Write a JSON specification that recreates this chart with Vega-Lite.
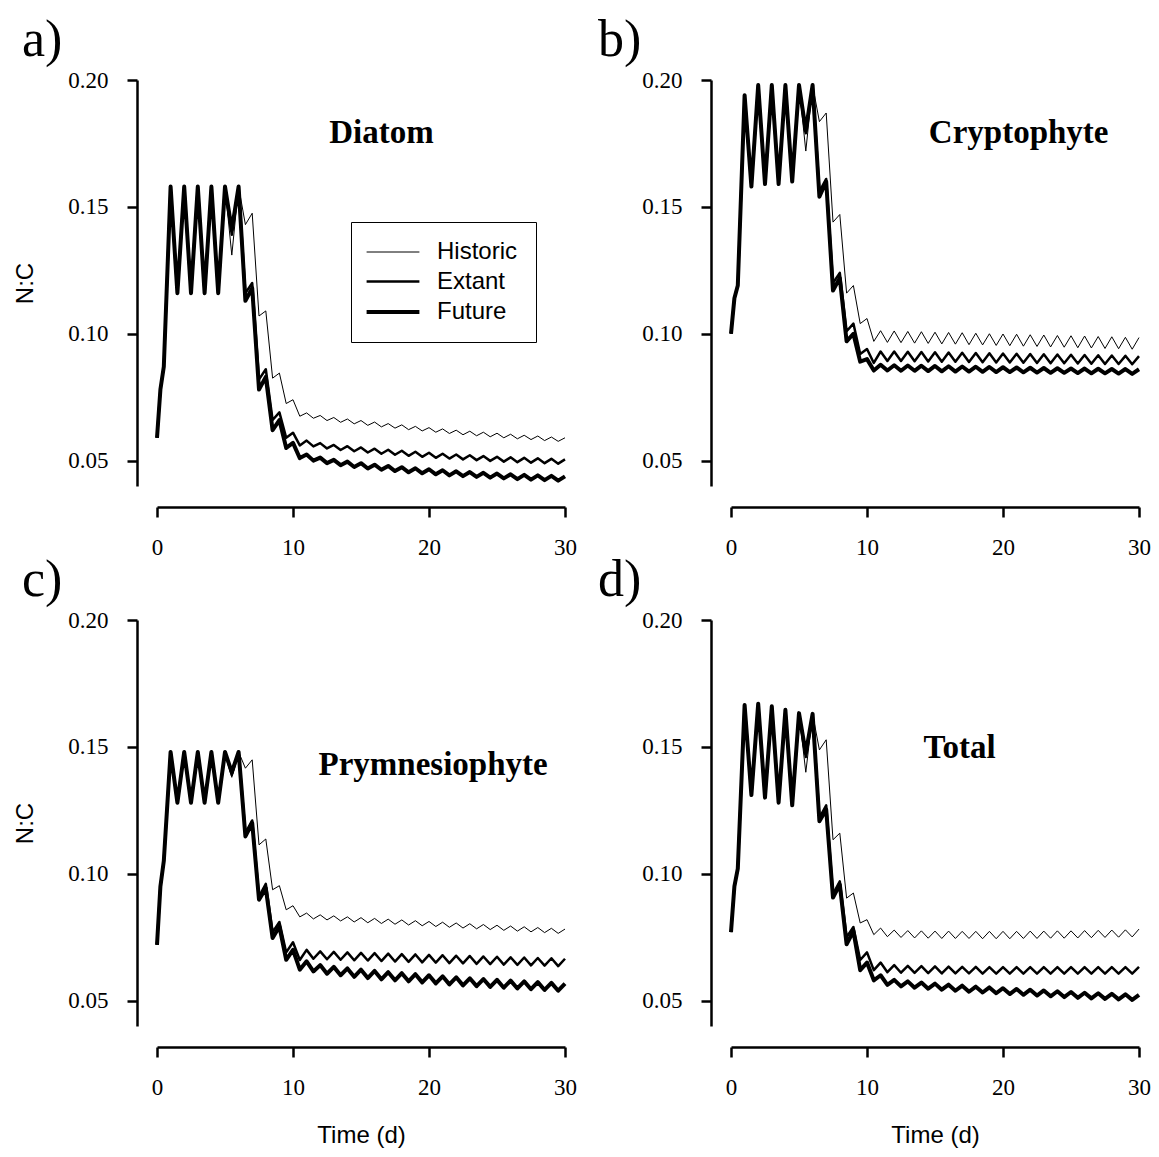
{
"$schema": "https://vega.github.io/schema/vega-lite/v6.json",
"background": "white",
"padding": {"left": 13, "top": 14, "right": 5, "bottom": 5},
"config": {
  "view": {"stroke": null},
  "axis": {"domainColor": "black", "tickColor": "black", "domainWidth": 2.5, "tickWidth": 2.5, "tickSize": 10, "labelFont": "Liberation Serif", "labelFontSize": 23, "labelColor": "black", "titleFont": "Liberation Sans", "titleFontSize": 24, "titleFontWeight": "normal", "titleColor": "black", "grid": false, "labelFlush": false, "labelOverlap": false},
  "title": {"font": "Liberation Serif", "fontSize": 52, "fontWeight": "normal", "color": "black", "anchor": "start", "frame": "group", "baseline": "bottom", "offset": 2}
},
"datasets": {
"a": [
{"t":0,"Historic":0.059,"Extant":0.059,"Future":0.059},
{"t":0.25,"Historic":0.078,"Extant":0.078,"Future":0.078},
{"t":0.5,"Historic":0.087,"Extant":0.087,"Future":0.087},
{"t":1,"Historic":0.158,"Extant":0.158,"Future":0.158},
{"t":1.5,"Historic":0.116,"Extant":0.116,"Future":0.116},
{"t":2,"Historic":0.158,"Extant":0.158,"Future":0.158},
{"t":2.5,"Historic":0.116,"Extant":0.116,"Future":0.116},
{"t":3,"Historic":0.158,"Extant":0.158,"Future":0.158},
{"t":3.5,"Historic":0.116,"Extant":0.116,"Future":0.116},
{"t":4,"Historic":0.158,"Extant":0.158,"Future":0.158},
{"t":4.5,"Historic":0.116,"Extant":0.116,"Future":0.116},
{"t":5,"Historic":0.158,"Extant":0.158,"Future":0.158},
{"t":5.5,"Historic":0.131,"Extant":0.139,"Future":0.141},
{"t":6,"Historic":0.158,"Extant":0.158,"Future":0.158},
{"t":6.5,"Historic":0.143,"Extant":0.116,"Future":0.113},
{"t":7,"Historic":0.1475,"Extant":0.120,"Future":0.118},
{"t":7.5,"Historic":0.107,"Extant":0.082,"Future":0.078},
{"t":8,"Historic":0.109,"Extant":0.086,"Future":0.083},
{"t":8.5,"Historic":0.0825,"Extant":0.066,"Future":0.062},
{"t":9,"Historic":0.0845,"Extant":0.069,"Future":0.066},
{"t":9.5,"Historic":0.0725,"Extant":0.059,"Future":0.055},
{"t":10,"Historic":0.074,"Extant":0.061,"Future":0.057},
{"t":10.5,"Historic":0.0675,"Extant":0.056,"Future":0.051},
{"t":11,"Historic":0.0688,"Extant":0.0579,"Future":0.0524},
{"t":11.5,"Historic":0.0667,"Extant":0.0556,"Future":0.0500},
{"t":12,"Historic":0.0678,"Extant":0.0569,"Future":0.0512},
{"t":12.5,"Historic":0.0658,"Extant":0.0548,"Future":0.0490},
{"t":13,"Historic":0.0670,"Extant":0.0562,"Future":0.0503},
{"t":13.5,"Historic":0.0651,"Extant":0.0542,"Future":0.0482},
{"t":14,"Historic":0.0664,"Extant":0.0557,"Future":0.0496},
{"t":14.5,"Historic":0.0645,"Extant":0.0537,"Future":0.0475},
{"t":15,"Historic":0.0658,"Extant":0.0552,"Future":0.0490},
{"t":15.5,"Historic":0.0639,"Extant":0.0532,"Future":0.0469},
{"t":16,"Historic":0.0652,"Extant":0.0547,"Future":0.0484},
{"t":16.5,"Historic":0.0633,"Extant":0.0527,"Future":0.0464},
{"t":17,"Historic":0.0646,"Extant":0.0543,"Future":0.0479},
{"t":17.5,"Historic":0.0628,"Extant":0.0523,"Future":0.0459},
{"t":18,"Historic":0.0641,"Extant":0.0539,"Future":0.0474},
{"t":18.5,"Historic":0.0622,"Extant":0.0519,"Future":0.0454},
{"t":19,"Historic":0.0635,"Extant":0.0535,"Future":0.0470},
{"t":19.5,"Historic":0.0617,"Extant":0.0515,"Future":0.0450},
{"t":20,"Historic":0.0630,"Extant":0.0531,"Future":0.0466},
{"t":20.5,"Historic":0.0612,"Extant":0.0511,"Future":0.0446},
{"t":21,"Historic":0.0625,"Extant":0.0527,"Future":0.0462},
{"t":21.5,"Historic":0.0607,"Extant":0.0508,"Future":0.0442},
{"t":22,"Historic":0.0620,"Extant":0.0524,"Future":0.0458},
{"t":22.5,"Historic":0.0602,"Extant":0.0505,"Future":0.0439},
{"t":23,"Historic":0.0616,"Extant":0.0521,"Future":0.0455},
{"t":23.5,"Historic":0.0598,"Extant":0.0502,"Future":0.0436},
{"t":24,"Historic":0.0612,"Extant":0.0518,"Future":0.0452},
{"t":24.5,"Historic":0.0594,"Extant":0.0499,"Future":0.0433},
{"t":25,"Historic":0.0608,"Extant":0.0515,"Future":0.0449},
{"t":25.5,"Historic":0.0590,"Extant":0.0496,"Future":0.0430},
{"t":26,"Historic":0.0604,"Extant":0.0513,"Future":0.0446},
{"t":26.5,"Historic":0.0586,"Extant":0.0494,"Future":0.0427},
{"t":27,"Historic":0.0600,"Extant":0.0511,"Future":0.0444},
{"t":27.5,"Historic":0.0583,"Extant":0.0492,"Future":0.0425},
{"t":28,"Historic":0.0597,"Extant":0.0509,"Future":0.0442},
{"t":28.5,"Historic":0.0579,"Extant":0.0490,"Future":0.0423},
{"t":29,"Historic":0.0593,"Extant":0.0507,"Future":0.0440},
{"t":29.5,"Historic":0.0576,"Extant":0.0488,"Future":0.0421},
{"t":30,"Historic":0.0590,"Extant":0.0505,"Future":0.0438}
],
"b": [
{"t":0,"Historic":0.100,"Extant":0.100,"Future":0.100},
{"t":0.25,"Historic":0.114,"Extant":0.114,"Future":0.114},
{"t":0.5,"Historic":0.119,"Extant":0.119,"Future":0.119},
{"t":1,"Historic":0.194,"Extant":0.194,"Future":0.194},
{"t":1.5,"Historic":0.158,"Extant":0.158,"Future":0.158},
{"t":2,"Historic":0.198,"Extant":0.198,"Future":0.198},
{"t":2.5,"Historic":0.159,"Extant":0.159,"Future":0.159},
{"t":3,"Historic":0.198,"Extant":0.198,"Future":0.198},
{"t":3.5,"Historic":0.159,"Extant":0.159,"Future":0.159},
{"t":4,"Historic":0.198,"Extant":0.198,"Future":0.198},
{"t":4.5,"Historic":0.160,"Extant":0.160,"Future":0.160},
{"t":5,"Historic":0.198,"Extant":0.198,"Future":0.198},
{"t":5.5,"Historic":0.172,"Extant":0.179,"Future":0.180},
{"t":6,"Historic":0.198,"Extant":0.198,"Future":0.198},
{"t":6.5,"Historic":0.1836,"Extant":0.156,"Future":0.154},
{"t":7,"Historic":0.187,"Extant":0.161,"Future":0.160},
{"t":7.5,"Historic":0.144,"Extant":0.120,"Future":0.117},
{"t":8,"Historic":0.147,"Extant":0.124,"Future":0.122},
{"t":8.5,"Historic":0.116,"Extant":0.101,"Future":0.097},
{"t":9,"Historic":0.119,"Extant":0.104,"Future":0.100},
{"t":9.5,"Historic":0.104,"Extant":0.092,"Future":0.089},
{"t":10,"Historic":0.106,"Extant":0.094,"Future":0.090},
{"t":10.5,"Historic":0.097,"Extant":0.0885,"Future":0.0855},
{"t":11,"Historic":0.1012,"Extant":0.0930,"Future":0.0878},
{"t":11.5,"Historic":0.0966,"Extant":0.0893,"Future":0.0855},
{"t":12,"Historic":0.1011,"Extant":0.0930,"Future":0.0876},
{"t":12.5,"Historic":0.0965,"Extant":0.0893,"Future":0.0854},
{"t":13,"Historic":0.1009,"Extant":0.0929,"Future":0.0875},
{"t":13.5,"Historic":0.0963,"Extant":0.0892,"Future":0.0854},
{"t":14,"Historic":0.1008,"Extant":0.0928,"Future":0.0874},
{"t":14.5,"Historic":0.0962,"Extant":0.0891,"Future":0.0853},
{"t":15,"Historic":0.1006,"Extant":0.0927,"Future":0.0873},
{"t":15.5,"Historic":0.0960,"Extant":0.0890,"Future":0.0852},
{"t":16,"Historic":0.1005,"Extant":0.0926,"Future":0.0872},
{"t":16.5,"Historic":0.0959,"Extant":0.0890,"Future":0.0851},
{"t":17,"Historic":0.1004,"Extant":0.0925,"Future":0.0871},
{"t":17.5,"Historic":0.0957,"Extant":0.0889,"Future":0.0851},
{"t":18,"Historic":0.1002,"Extant":0.0924,"Future":0.0870},
{"t":18.5,"Historic":0.0956,"Extant":0.0888,"Future":0.0850},
{"t":19,"Historic":0.1000,"Extant":0.0923,"Future":0.0869},
{"t":19.5,"Historic":0.0954,"Extant":0.0887,"Future":0.0849},
{"t":20,"Historic":0.0999,"Extant":0.0922,"Future":0.0868},
{"t":20.5,"Historic":0.0953,"Extant":0.0887,"Future":0.0849},
{"t":21,"Historic":0.0998,"Extant":0.0921,"Future":0.0867},
{"t":21.5,"Historic":0.0951,"Extant":0.0886,"Future":0.0848},
{"t":22,"Historic":0.0996,"Extant":0.0920,"Future":0.0866},
{"t":22.5,"Historic":0.0950,"Extant":0.0885,"Future":0.0847},
{"t":23,"Historic":0.0995,"Extant":0.0919,"Future":0.0865},
{"t":23.5,"Historic":0.0948,"Extant":0.0884,"Future":0.0846},
{"t":24,"Historic":0.0993,"Extant":0.0918,"Future":0.0864},
{"t":24.5,"Historic":0.0947,"Extant":0.0884,"Future":0.0846},
{"t":25,"Historic":0.0992,"Extant":0.0917,"Future":0.0863},
{"t":25.5,"Historic":0.0945,"Extant":0.0883,"Future":0.0845},
{"t":26,"Historic":0.0991,"Extant":0.0916,"Future":0.0863},
{"t":26.5,"Historic":0.0944,"Extant":0.0882,"Future":0.0844},
{"t":27,"Historic":0.0989,"Extant":0.0915,"Future":0.0862},
{"t":27.5,"Historic":0.0942,"Extant":0.0881,"Future":0.0844},
{"t":28,"Historic":0.0988,"Extant":0.0914,"Future":0.0861},
{"t":28.5,"Historic":0.0941,"Extant":0.0881,"Future":0.0843},
{"t":29,"Historic":0.0986,"Extant":0.0913,"Future":0.0861},
{"t":29.5,"Historic":0.0939,"Extant":0.0880,"Future":0.0842},
{"t":30,"Historic":0.0985,"Extant":0.0912,"Future":0.0860}
],
"c": [
{"t":0,"Historic":0.072,"Extant":0.072,"Future":0.072},
{"t":0.25,"Historic":0.095,"Extant":0.095,"Future":0.095},
{"t":0.5,"Historic":0.105,"Extant":0.105,"Future":0.105},
{"t":1,"Historic":0.148,"Extant":0.148,"Future":0.148},
{"t":1.5,"Historic":0.128,"Extant":0.128,"Future":0.128},
{"t":2,"Historic":0.148,"Extant":0.148,"Future":0.148},
{"t":2.5,"Historic":0.128,"Extant":0.128,"Future":0.128},
{"t":3,"Historic":0.148,"Extant":0.148,"Future":0.148},
{"t":3.5,"Historic":0.128,"Extant":0.128,"Future":0.128},
{"t":4,"Historic":0.148,"Extant":0.148,"Future":0.148},
{"t":4.5,"Historic":0.128,"Extant":0.128,"Future":0.128},
{"t":5,"Historic":0.148,"Extant":0.148,"Future":0.148},
{"t":5.5,"Historic":0.138,"Extant":0.139,"Future":0.140},
{"t":6,"Historic":0.148,"Extant":0.148,"Future":0.148},
{"t":6.5,"Historic":0.1416,"Extant":0.116,"Future":0.1147},
{"t":7,"Historic":0.1449,"Extant":0.121,"Future":0.120},
{"t":7.5,"Historic":0.1114,"Extant":0.091,"Future":0.0898},
{"t":8,"Historic":0.1137,"Extant":0.096,"Future":0.0943},
{"t":8.5,"Historic":0.0937,"Extant":0.077,"Future":0.0747},
{"t":9,"Historic":0.0953,"Extant":0.081,"Future":0.0792},
{"t":9.5,"Historic":0.0858,"Extant":0.069,"Future":0.0661},
{"t":10,"Historic":0.0874,"Extant":0.073,"Future":0.070},
{"t":10.5,"Historic":0.0830,"Extant":0.066,"Future":0.0622},
{"t":11,"Historic":0.0845,"Extant":0.070,"Future":0.0655},
{"t":11.5,"Historic":0.0822,"Extant":0.0665,"Future":0.0615},
{"t":12,"Historic":0.0838,"Extant":0.0694,"Future":0.0640},
{"t":12.5,"Historic":0.0818,"Extant":0.0663,"Future":0.0606},
{"t":13,"Historic":0.0834,"Extant":0.0692,"Future":0.0633},
{"t":13.5,"Historic":0.0814,"Extant":0.0661,"Future":0.0600},
{"t":14,"Historic":0.0830,"Extant":0.0690,"Future":0.0627},
{"t":14.5,"Historic":0.0810,"Extant":0.0659,"Future":0.0594},
{"t":15,"Historic":0.0827,"Extant":0.0688,"Future":0.0622},
{"t":15.5,"Historic":0.0807,"Extant":0.0658,"Future":0.0589},
{"t":16,"Historic":0.0824,"Extant":0.0687,"Future":0.0617},
{"t":16.5,"Historic":0.0804,"Extant":0.0656,"Future":0.0584},
{"t":17,"Historic":0.0821,"Extant":0.0685,"Future":0.0612},
{"t":17.5,"Historic":0.0801,"Extant":0.0654,"Future":0.0580},
{"t":18,"Historic":0.0818,"Extant":0.0683,"Future":0.0608},
{"t":18.5,"Historic":0.0798,"Extant":0.0653,"Future":0.0576},
{"t":19,"Historic":0.0815,"Extant":0.0682,"Future":0.0604},
{"t":19.5,"Historic":0.0795,"Extant":0.0651,"Future":0.0572},
{"t":20,"Historic":0.0812,"Extant":0.0680,"Future":0.0600},
{"t":20.5,"Historic":0.0792,"Extant":0.0650,"Future":0.0568},
{"t":21,"Historic":0.0809,"Extant":0.0679,"Future":0.0596},
{"t":21.5,"Historic":0.0789,"Extant":0.0648,"Future":0.0564},
{"t":22,"Historic":0.0806,"Extant":0.0677,"Future":0.0592},
{"t":22.5,"Historic":0.0786,"Extant":0.0647,"Future":0.0560},
{"t":23,"Historic":0.0803,"Extant":0.0676,"Future":0.0588},
{"t":23.5,"Historic":0.0783,"Extant":0.0645,"Future":0.0557},
{"t":24,"Historic":0.0800,"Extant":0.0674,"Future":0.0585},
{"t":24.5,"Historic":0.0780,"Extant":0.0644,"Future":0.0554},
{"t":25,"Historic":0.0797,"Extant":0.0673,"Future":0.0582},
{"t":25.5,"Historic":0.0777,"Extant":0.0642,"Future":0.0551},
{"t":26,"Historic":0.0794,"Extant":0.0671,"Future":0.0579},
{"t":26.5,"Historic":0.0774,"Extant":0.0641,"Future":0.0548},
{"t":27,"Historic":0.0791,"Extant":0.0670,"Future":0.0576},
{"t":27.5,"Historic":0.0771,"Extant":0.0639,"Future":0.0545},
{"t":28,"Historic":0.0788,"Extant":0.0668,"Future":0.0573},
{"t":28.5,"Historic":0.0768,"Extant":0.0638,"Future":0.0542},
{"t":29,"Historic":0.0785,"Extant":0.0667,"Future":0.0570},
{"t":29.5,"Historic":0.0765,"Extant":0.0636,"Future":0.0539},
{"t":30,"Historic":0.0782,"Extant":0.0665,"Future":0.0567}
],
"d": [
{"t":0,"Historic":0.077,"Extant":0.077,"Future":0.077},
{"t":0.25,"Historic":0.095,"Extant":0.095,"Future":0.095},
{"t":0.5,"Historic":0.102,"Extant":0.102,"Future":0.102},
{"t":1,"Historic":0.1665,"Extant":0.1665,"Future":0.1665},
{"t":1.5,"Historic":0.131,"Extant":0.131,"Future":0.131},
{"t":2,"Historic":0.167,"Extant":0.167,"Future":0.167},
{"t":2.5,"Historic":0.130,"Extant":0.130,"Future":0.130},
{"t":3,"Historic":0.166,"Extant":0.166,"Future":0.166},
{"t":3.5,"Historic":0.128,"Extant":0.128,"Future":0.128},
{"t":4,"Historic":0.1646,"Extant":0.1646,"Future":0.1646},
{"t":4.5,"Historic":0.127,"Extant":0.127,"Future":0.127},
{"t":5,"Historic":0.1633,"Extant":0.1633,"Future":0.1633},
{"t":5.5,"Historic":0.140,"Extant":0.146,"Future":0.1475},
{"t":6,"Historic":0.163,"Extant":0.163,"Future":0.163},
{"t":6.5,"Historic":0.1488,"Extant":0.122,"Future":0.1207},
{"t":7,"Historic":0.1528,"Extant":0.127,"Future":0.1253},
{"t":7.5,"Historic":0.1134,"Extant":0.092,"Future":0.0906},
{"t":8,"Historic":0.116,"Extant":0.097,"Future":0.0958},
{"t":8.5,"Historic":0.0904,"Extant":0.075,"Future":0.0722},
{"t":9,"Historic":0.0924,"Extant":0.079,"Future":0.0774},
{"t":9.5,"Historic":0.0806,"Extant":0.066,"Future":0.062},
{"t":10,"Historic":0.0819,"Extant":0.069,"Future":0.065},
{"t":10.5,"Historic":0.076,"Extant":0.062,"Future":0.058},
{"t":11,"Historic":0.0786,"Extant":0.065,"Future":0.060},
{"t":11.5,"Historic":0.0752,"Extant":0.0612,"Future":0.0562},
{"t":12,"Historic":0.0778,"Extant":0.0640,"Future":0.0582},
{"t":12.5,"Historic":0.0749,"Extant":0.0610,"Future":0.0556},
{"t":13,"Historic":0.0776,"Extant":0.0637,"Future":0.0576},
{"t":13.5,"Historic":0.0747,"Extant":0.0609,"Future":0.0551},
{"t":14,"Historic":0.0775,"Extant":0.0636,"Future":0.0571},
{"t":14.5,"Historic":0.0746,"Extant":0.0608,"Future":0.0547},
{"t":15,"Historic":0.0774,"Extant":0.0635,"Future":0.0567},
{"t":15.5,"Historic":0.0745,"Extant":0.0607,"Future":0.0543},
{"t":16,"Historic":0.0774,"Extant":0.0634,"Future":0.0563},
{"t":16.5,"Historic":0.0745,"Extant":0.0607,"Future":0.0539},
{"t":17,"Historic":0.0773,"Extant":0.0633,"Future":0.0559},
{"t":17.5,"Historic":0.0745,"Extant":0.0607,"Future":0.0535},
{"t":18,"Historic":0.0773,"Extant":0.0633,"Future":0.0555},
{"t":18.5,"Historic":0.0744,"Extant":0.0606,"Future":0.0532},
{"t":19,"Historic":0.0773,"Extant":0.0632,"Future":0.0552},
{"t":19.5,"Historic":0.0744,"Extant":0.0606,"Future":0.0529},
{"t":20,"Historic":0.0773,"Extant":0.0632,"Future":0.0549},
{"t":20.5,"Historic":0.0744,"Extant":0.0606,"Future":0.0526},
{"t":21,"Historic":0.0773,"Extant":0.0632,"Future":0.0546},
{"t":21.5,"Historic":0.0745,"Extant":0.0606,"Future":0.0523},
{"t":22,"Historic":0.0774,"Extant":0.0632,"Future":0.0543},
{"t":22.5,"Historic":0.0745,"Extant":0.0606,"Future":0.0520},
{"t":23,"Historic":0.0774,"Extant":0.0632,"Future":0.0540},
{"t":23.5,"Historic":0.0746,"Extant":0.0606,"Future":0.0517},
{"t":24,"Historic":0.0775,"Extant":0.0632,"Future":0.0537},
{"t":24.5,"Historic":0.0746,"Extant":0.0606,"Future":0.0514},
{"t":25,"Historic":0.0775,"Extant":0.0632,"Future":0.0534},
{"t":25.5,"Historic":0.0747,"Extant":0.0606,"Future":0.0511},
{"t":26,"Historic":0.0776,"Extant":0.0632,"Future":0.0531},
{"t":26.5,"Historic":0.0748,"Extant":0.0606,"Future":0.0509},
{"t":27,"Historic":0.0777,"Extant":0.0632,"Future":0.0529},
{"t":27.5,"Historic":0.0749,"Extant":0.0606,"Future":0.0507},
{"t":28,"Historic":0.0778,"Extant":0.0632,"Future":0.0527},
{"t":28.5,"Historic":0.0750,"Extant":0.0606,"Future":0.0505},
{"t":29,"Historic":0.0779,"Extant":0.0632,"Future":0.0525},
{"t":29.5,"Historic":0.0751,"Extant":0.0606,"Future":0.0503},
{"t":30,"Historic":0.0782,"Extant":0.0633,"Future":0.0523}
],
"labels": [
{"panel":"a","t":16.5,"value":0.1791,"label":"Diatom"},
{"panel":"b","t":21.15,"value":0.179,"label":"Cryptophyte"},
{"panel":"c","t":20.3,"value":0.1429,"label":"Prymnesiophyte"},
{"panel":"d","t":16.8,"value":0.1496,"label":"Total"}
]
},
"columns": 2,
"bounds": "flush",
"spacing": {"row": 134, "column": 166},
"resolve": {"scale": {"strokeWidth": "independent"}, "legend": {"strokeWidth": "independent"}},
"concat": [
{
  "title": {"text": "a)", "dx": -135},
  "width": 408, "height": 406,
  "layer": [
    {
      "data": {"name": "a"},
      "transform": [{"fold": ["Historic", "Extant", "Future"], "as": ["series", "value"]}],
      "mark": {"type": "line", "color": "black", "strokeJoin": "round", "strokeCap": "butt"},
      "encoding": {
        "x": {"field": "t", "type": "quantitative", "scale": {"domain": [0, 30], "nice": false}, "axis": {"values": [0, 10, 20, 30], "title": null, "offset": 21, "labelPadding": 19}},
        "y": {"field": "value", "type": "quantitative", "scale": {"domain": [0.04, 0.2], "nice": false, "zero": false}, "axis": {"values": [0.05, 0.1, 0.15, 0.2], "format": ".2f", "title": "N:C", "offset": 20, "labelPadding": 19, "titlePadding": 30}},
        "strokeWidth": {"field": "series", "type": "nominal", "scale": {"type": "ordinal", "domain": ["Historic", "Extant", "Future"], "range": [1, 2.5, 4]},
          "legend": {"orient": "none", "legendX": 194, "legendY": 142, "title": null, "symbolType": "M-1.4,0H3.4", "symbolSize": 484, "symbolStrokeColor": "black", "labelFont": "Liberation Sans", "labelFontSize": 24, "labelColor": "black", "labelOffset": 42, "rowPadding": 5, "padding": 18, "strokeColor": "black"}}
      }
    },
    {
      "data": {"name": "labels"},
      "transform": [{"filter": "datum.panel == 'a'"}],
      "mark": {"type": "text", "font": "Liberation Serif", "fontSize": 33, "fontWeight": "bold", "color": "black", "align": "center", "baseline": "middle"},
      "encoding": {"x": {"field": "t", "type": "quantitative"}, "y": {"field": "value", "type": "quantitative"}, "text": {"field": "label"}}
    }
  ]
},
{
  "title": {"text": "b)", "dx": -133},
  "width": 408, "height": 406,
  "layer": [
    {
      "data": {"name": "b"},
      "transform": [{"fold": ["Historic", "Extant", "Future"], "as": ["series", "value"]}],
      "mark": {"type": "line", "color": "black", "strokeJoin": "round", "strokeCap": "butt"},
      "encoding": {
        "x": {"field": "t", "type": "quantitative", "scale": {"domain": [0, 30], "nice": false}, "axis": {"values": [0, 10, 20, 30], "title": null, "offset": 21, "labelPadding": 19}},
        "y": {"field": "value", "type": "quantitative", "scale": {"domain": [0.04, 0.2], "nice": false, "zero": false}, "axis": {"values": [0.05, 0.1, 0.15, 0.2], "format": ".2f", "title": null, "offset": 20, "labelPadding": 19}},
        "strokeWidth": {"field": "series", "type": "nominal", "scale": {"type": "ordinal", "domain": ["Historic", "Extant", "Future"], "range": [1, 2.5, 4]}, "legend": null}
      }
    },
    {
      "data": {"name": "labels"},
      "transform": [{"filter": "datum.panel == 'b'"}],
      "mark": {"type": "text", "font": "Liberation Serif", "fontSize": 33, "fontWeight": "bold", "color": "black", "align": "center", "baseline": "middle"},
      "encoding": {"x": {"field": "t", "type": "quantitative"}, "y": {"field": "value", "type": "quantitative"}, "text": {"field": "label"}}
    }
  ]
},
{
  "title": {"text": "c)", "dx": -135},
  "width": 408, "height": 406,
  "layer": [
    {
      "data": {"name": "c"},
      "transform": [{"fold": ["Historic", "Extant", "Future"], "as": ["series", "value"]}],
      "mark": {"type": "line", "color": "black", "strokeJoin": "round", "strokeCap": "butt"},
      "encoding": {
        "x": {"field": "t", "type": "quantitative", "scale": {"domain": [0, 30], "nice": false}, "axis": {"values": [0, 10, 20, 30], "title": "Time (d)", "offset": 21, "labelPadding": 19, "titlePadding": 24}},
        "y": {"field": "value", "type": "quantitative", "scale": {"domain": [0.04, 0.2], "nice": false, "zero": false}, "axis": {"values": [0.05, 0.1, 0.15, 0.2], "format": ".2f", "title": "N:C", "offset": 20, "labelPadding": 19, "titlePadding": 30}},
        "strokeWidth": {"field": "series", "type": "nominal", "scale": {"type": "ordinal", "domain": ["Historic", "Extant", "Future"], "range": [1, 2.5, 4]}, "legend": null}
      }
    },
    {
      "data": {"name": "labels"},
      "transform": [{"filter": "datum.panel == 'c'"}],
      "mark": {"type": "text", "font": "Liberation Serif", "fontSize": 33, "fontWeight": "bold", "color": "black", "align": "center", "baseline": "middle"},
      "encoding": {"x": {"field": "t", "type": "quantitative"}, "y": {"field": "value", "type": "quantitative"}, "text": {"field": "label"}}
    }
  ]
},
{
  "title": {"text": "d)", "dx": -133},
  "width": 408, "height": 406,
  "layer": [
    {
      "data": {"name": "d"},
      "transform": [{"fold": ["Historic", "Extant", "Future"], "as": ["series", "value"]}],
      "mark": {"type": "line", "color": "black", "strokeJoin": "round", "strokeCap": "butt"},
      "encoding": {
        "x": {"field": "t", "type": "quantitative", "scale": {"domain": [0, 30], "nice": false}, "axis": {"values": [0, 10, 20, 30], "title": "Time (d)", "offset": 21, "labelPadding": 19, "titlePadding": 24}},
        "y": {"field": "value", "type": "quantitative", "scale": {"domain": [0.04, 0.2], "nice": false, "zero": false}, "axis": {"values": [0.05, 0.1, 0.15, 0.2], "format": ".2f", "title": null, "offset": 20, "labelPadding": 19}},
        "strokeWidth": {"field": "series", "type": "nominal", "scale": {"type": "ordinal", "domain": ["Historic", "Extant", "Future"], "range": [1, 2.5, 4]}, "legend": null}
      }
    },
    {
      "data": {"name": "labels"},
      "transform": [{"filter": "datum.panel == 'd'"}],
      "mark": {"type": "text", "font": "Liberation Serif", "fontSize": 33, "fontWeight": "bold", "color": "black", "align": "center", "baseline": "middle"},
      "encoding": {"x": {"field": "t", "type": "quantitative"}, "y": {"field": "value", "type": "quantitative"}, "text": {"field": "label"}}
    }
  ]
}
]
}
